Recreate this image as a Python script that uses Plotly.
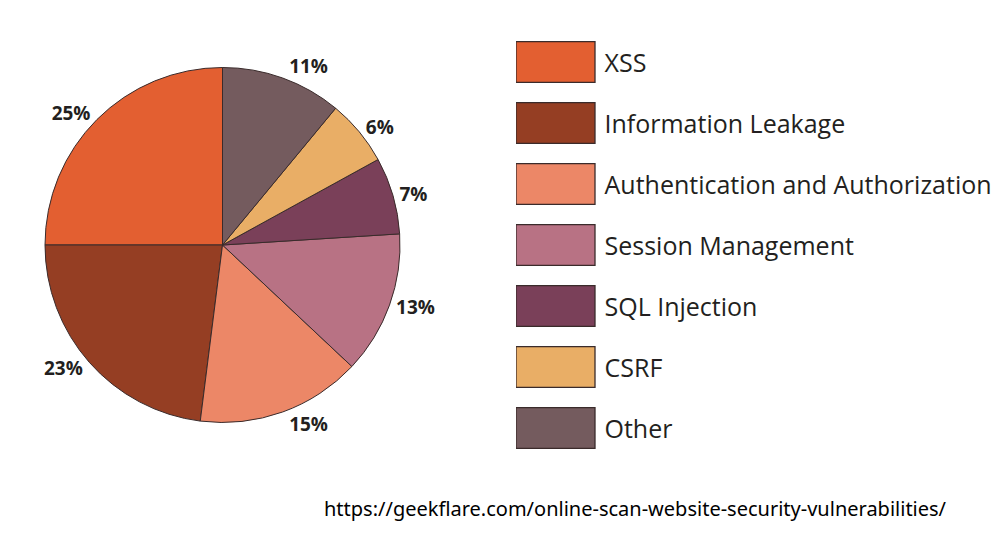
import plotly.graph_objects as go

categories = ["XSS", "Information Leakage", "Authentication and Authorization",
              "Session Management", "SQL Injection", "CSRF", "Other"]
shares = [25, 23, 15, 13, 7, 6, 11]
colors = ["#E35F31", "#953E23", "#EC8767", "#B87284", "#7A4059", "#E9AE66", "#745B5E"]

W, H = 1007, 556
EDGE = "#3a2b2b"
BOX_LEN = 79          # legend swatch length in px (style)
LEG_X0 = 516          # legend swatch left edge (px)

fig = go.Figure()

fig.add_trace(go.Pie(
    labels=categories, values=shares, sort=False, direction="counterclockwise",
    rotation=-90, marker=dict(colors=colors, line=dict(color=EDGE, width=1)),
    texttemplate="%{value}%", textposition="outside",
    textfont=dict(family="Open Sans", size=19, color="#231f20", weight="bold"),
    domain=dict(x=[45 / W, 400 / W], y=[1 - 423 / H, 1 - 67 / H]),
    showlegend=False, hoverinfo="skip", automargin=False,
))

# legend drawn as a bar chart on a hidden axis
fig.add_trace(go.Bar(
    y=categories, x=[BOX_LEN] * len(categories), orientation="h",
    marker=dict(color=colors, line=dict(color=EDGE, width=1.3)),
    width=0.67, text=["\u00a0" + c for c in categories], textposition="outside",
    constraintext="none", cliponaxis=False,
    textfont=dict(family="Open Sans", size=25, color="#231f20"),
    xaxis="x", yaxis="y", hoverinfo="skip", showlegend=False,
))

fig.update_layout(
    width=W, height=H, margin=dict(l=0, r=0, t=0, b=0),
    paper_bgcolor="white", plot_bgcolor="white",
    xaxis=dict(domain=[LEG_X0 / W, 1], range=[0, W - LEG_X0], visible=False, fixedrange=True),
    yaxis=dict(domain=[1 - 458.5 / H, 1 - 31.5 / H], range=[6.5, -0.5], visible=False,
               type="category", fixedrange=True),
    annotations=[dict(text="https://geekflare.com/online-scan-website-security-vulnerabilities/",
                      x=322 / W, y=1 - 508 / H, xref="paper", yref="paper",
                      xanchor="left", yanchor="middle", showarrow=False,
                      font=dict(family="Noto Sans", size=20, color="#000000"))],
)

fig.write_html("out.html")
